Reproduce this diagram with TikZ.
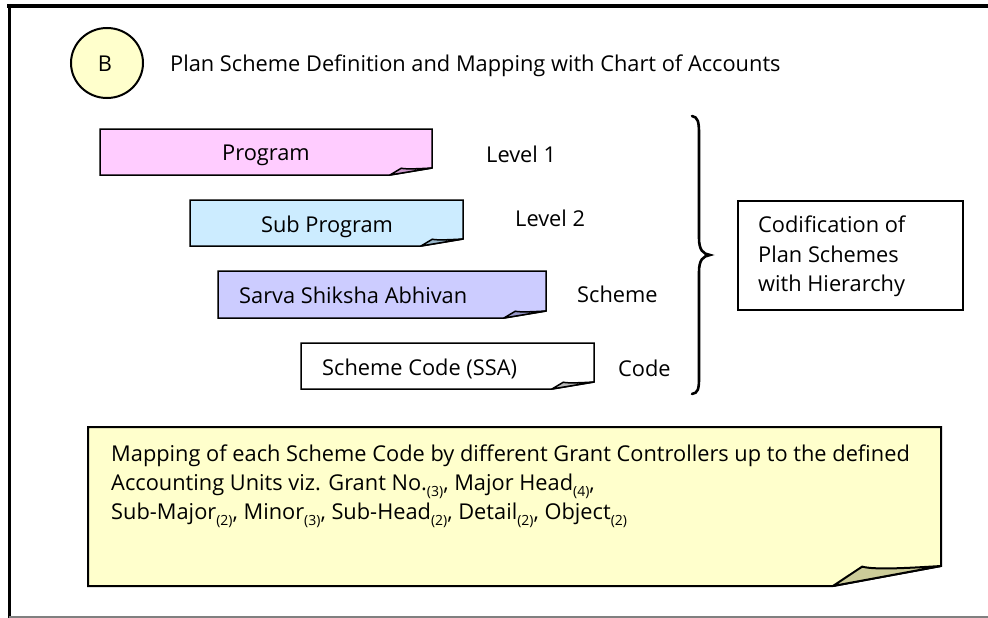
\documentclass[tikz,border=0pt]{standalone}
\usepackage{fontspec}
\setmainfont{Open Sans}
\definecolor{noteyellow}{HTML}{FFFFCC}
\definecolor{foldyellow}{HTML}{CCCC99}
\definecolor{notepink}{HTML}{FFCCFF}
\definecolor{foldpink}{HTML}{CC99CC}
\definecolor{noteblue}{HTML}{CCECFF}
\definecolor{foldblue}{HTML}{99B8CC}
\definecolor{notelav}{HTML}{CCCCFF}
\definecolor{foldlav}{HTML}{9999CC}
\definecolor{foldgray}{HTML}{BBBBBB}
% note with a curled lower-right corner: x1 y1 x2 y2 dx dy fill foldfill linewidth
\newcommand\foldnote[9]{%
  \filldraw[fill=#7, line width=#9, line join=miter] (#1,#2) -- (#3,#2) -- (#3,{#4-#6}) -- ({#3-#5},#4) -- (#1,#4) -- cycle;
  \filldraw[fill=#8, line width=#9, line join=round] ({#3-#5},#4) -- ({#3-0.73*#5},{#4-0.97*#6})
     .. controls ({#3-0.62*#5},{#4-0.8*#6}) and ({#3-0.3*#5},{#4-0.9*#6}) .. (#3,{#4-#6}) -- cycle;
}
\newcommand\subn[1]{\raisebox{-0.3em}{\fontsize{14}{14}\selectfont(#1)}}
\begin{document}
\begin{tikzpicture}[x=1pt,y=-1pt,
  txt/.style={inner sep=0pt, anchor=base west, font=\fontsize{21.8}{29}\selectfont},
  ctxt/.style={inner sep=0pt, anchor=base, font=\fontsize{21.8}{29}\selectfont}]
\useasboundingbox (0,0) rectangle (988,618);
\fill[white] (0,0) rectangle (988,618);
% page frame
\draw[line width=4pt] (7,6) -- (988,6);
\draw[line width=3pt] (9,4) -- (9,618);
\draw[gray, line width=1.2pt] (9,617) -- (988,617);

% heading badge and title
\coordinate (badgec) at (107,63);
\filldraw[fill=noteyellow, line width=2pt] (badgec) ellipse [x radius=36, y radius=35];
\node[ctxt] (badgeB) at (105,71) {B};
\node[txt] (title) at (170,71) {Plan Scheme Definition and Mapping with Chart of Accounts};

% hierarchy notes
\foldnote{100}{129}{432}{175}{42}{7}{notepink}{foldpink}{1.5pt}
\node[ctxt] (prog) at (266,160) {Program};
\foldnote{190}{200}{463}{246}{42}{7}{noteblue}{foldblue}{1.5pt}
\node[ctxt] (subprog) at (327,232) {Sub Program};
\foldnote{218}{271}{546}{318}{42}{7}{notelav}{foldlav}{1.5pt}
\node[txt] (ssa) at (239,303) {Sarva Shiksha Abhivan};
\foldnote{301}{343}{594}{389}{42}{7}{white}{foldgray}{1.5pt}
\node[txt] (code) at (322,375) {Scheme Code (SSA)};

% level labels
\node[txt] (lv1) at (486,162) {Level 1};
\node[txt] (lv2) at (515,226) {Level 2};
\node[txt] (lvs) at (577,302) {Scheme};
\node[txt] (lvc) at (618,376) {Code};

% brace grouping the levels
\draw[line width=2.6pt, line cap=round] (692,116) .. controls (698,117) and (699,122) .. (699,134)
  -- (699,238) .. controls (699,250) and (703,254) .. (710,255)
  .. controls (703,256) and (699,260) .. (699,272)
  -- (699,378) .. controls (699,389) and (698,393) .. (692,394);

% codification box
\node[draw, line width=1.5pt, minimum width=225, minimum height=109, anchor=north west] (codif) at (737,200) {};
\node[txt] (codif1) at (758,232) {Codification of};
\node[txt] (codif2) at (758,262) {Plan Schemes};
\node[txt] (codif3) at (758,291) {with Hierarchy};

% mapping note
\foldnote{88}{427}{941}{586}{108}{20}{noteyellow}{foldyellow}{2pt}
\node[txt] (map1) at (111,461) {Mapping of each Scheme Code by different Grant Controllers up to the defined};
\node[txt] (map2) at (111,490) {Accounting Units viz. Grant No.\subn{3}, Major Head\subn{4},};
\node[txt] (map3) at (111,519) {Sub-Major\subn{2}, Minor\subn{3}, Sub-Head\subn{2}, Detail\subn{2}, Object\subn{2}};
\end{tikzpicture}
\end{document}
